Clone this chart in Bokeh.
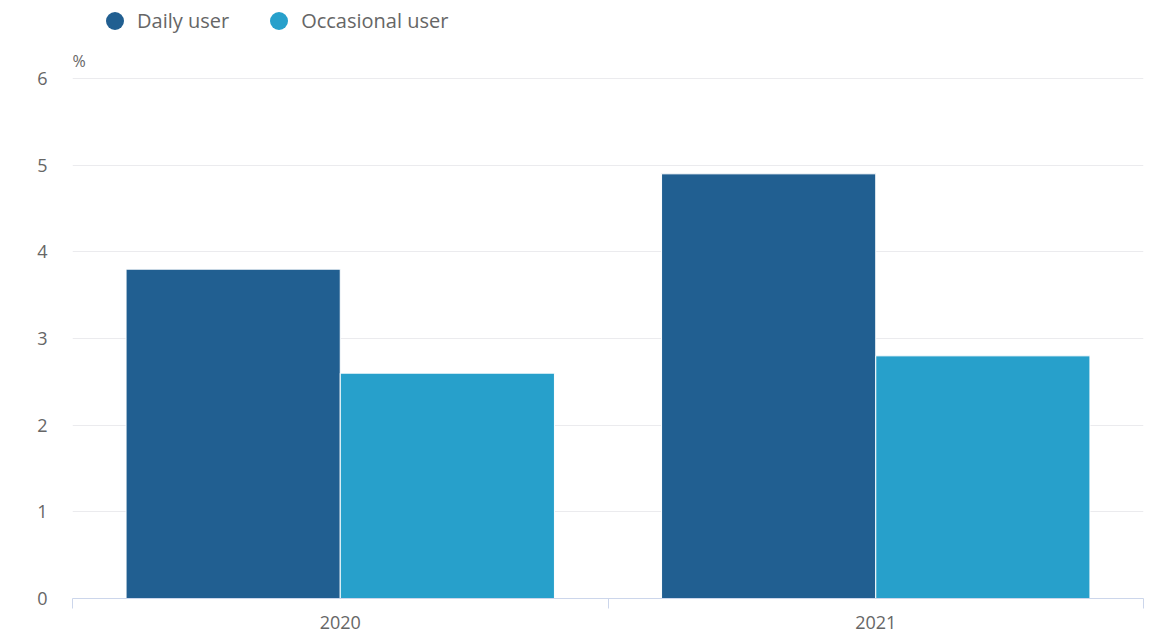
import numpy as np
from bokeh.plotting import figure
from bokeh.models import (ColumnDataSource, Range1d, FixedTicker, Legend, LegendItem, Label)
from bokeh.transform import dodge
from bokeh.embed import file_html
from bokeh.resources import INLINE

# ---- data ----
years = ["2020", "2021"]
daily_user = [3.8, 4.9]
occasional_user = [2.6, 2.8]
y_ticks = [0, 1, 2, 3, 4, 5, 6]
series_names = ["Daily user", "Occasional user"]

DARK = "#215f91"
LIGHT = "#27a0cb"
TEXT = "#666666"
FONT = "Open Sans"

pos = (np.arange(len(years)) + 0.5).tolist()
source = ColumnDataSource(dict(x=pos, daily=daily_user, occ=occasional_user, year=years))

p = figure(width=1151, height=632, output_backend="svg", toolbar_location=None,
           x_range=Range1d(0, len(years)), y_range=Range1d(0, 6.9),
           min_border_left=72, min_border_right=8, min_border_top=0, min_border_bottom=34)
p.outline_line_color = None
p.background_fill_color = "white"
p.border_fill_color = "white"

r1 = p.vbar(x=dodge("x", -0.2), top="daily", width=0.4, source=source,
            fill_color=DARK, line_color="white", line_width=1)
r2 = p.vbar(x=dodge("x", 0.2), top="occ", width=0.4, source=source,
            fill_color=LIGHT, line_color="white", line_width=1)

# x axis: labels at centres, ticks at category boundaries
xa = p.xaxis[0]
xa.ticker = FixedTicker(ticks=pos, minor_ticks=list(range(len(years) + 1)))
xa.major_label_overrides = {v: y for v, y in zip(pos, years)}
xa.major_tick_out = 0
xa.major_tick_in = 0
xa.minor_tick_out = 10
xa.minor_tick_in = 0
xa.minor_tick_line_color = "#ccd6eb"
xa.axis_line_color = "#ccd6eb"
xa.major_label_text_font = FONT
xa.major_label_text_font_size = "18px"
xa.major_label_text_color = TEXT
xa.major_label_standoff = 7

ya = p.yaxis[0]
ya.ticker = FixedTicker(ticks=y_ticks)
ya.axis_line_color = None
ya.major_tick_line_color = None
ya.minor_tick_line_color = None
ya.major_tick_out = 0
ya.major_tick_in = 0
ya.major_label_text_font = FONT
ya.major_label_text_font_size = "18px"
ya.major_label_text_color = TEXT
ya.major_label_standoff = 25

p.xgrid.grid_line_color = None
p.ygrid.ticker = FixedTicker(ticks=y_ticks)
p.ygrid.grid_line_color = "#ebebee"
p.ygrid.grid_line_width = 1

p.add_layout(Label(x=0, y=6, text="%", x_units="data", y_units="data", y_offset=7,
                   text_font=FONT, text_font_size="16px", text_color=TEXT,
                   text_baseline="bottom", text_align="left"))

# hidden circle renderers used only as legend swatches
d1 = p.scatter(x="x", y="daily", source=source, size=18, marker="circle",
               fill_color=DARK, line_color=None, visible=False)
d2 = p.scatter(x="x", y="occ", source=source, size=18, marker="circle",
               fill_color=LIGHT, line_color=None, visible=False)

legend = Legend(items=[LegendItem(label=series_names[0], renderers=[d1]),
                       LegendItem(label=series_names[1], renderers=[d2])],
                orientation="horizontal", location=(20, 555.5),
                glyph_width=45, glyph_height=45, label_standoff=0, spacing=27,
                padding=0, margin=0, border_line_color=None, background_fill_alpha=0,
                label_text_font=FONT, label_text_font_size="20px", label_text_color=TEXT)
p.add_layout(legend, "center")

open("out.html", "w").write(file_html(p, INLINE))
